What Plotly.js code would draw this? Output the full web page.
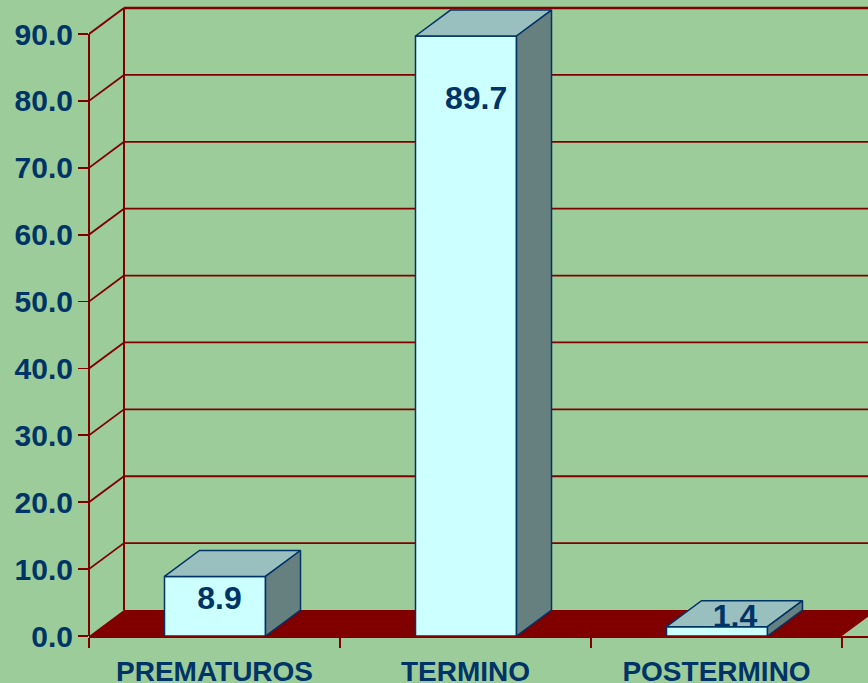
<!DOCTYPE html>
<html>
<head>
<meta charset="utf-8">
<script src="https://cdn.plot.ly/plotly-3.0.1.min.js"></script>
<style>html,body{margin:0;padding:0;background:#9BCC99;overflow:hidden}</style>
</head>
<body>
<div id="chart" style="width:868px;height:683px"></div>
<script>
const categories = ["PREMATUROS", "TERMINO", "POSTERMINO"];
const values = [8.9, 89.7, 1.4];
const yTicks = [0, 10, 20, 30, 40, 50, 60, 70, 80, 90];
const labelX = [0.52, 1.542, 2.574];
const labelY = [5.2, 80.0, 2.6];

const W = 868, H = 683, L = 89, B = 46.5;
const pxPerCat = 251, pxPerUnit = 6.694;
const dx = 35 / pxPerCat, dy = 26 / pxPerUnit;
const barW = 101 / pxPerCat;
const barShift = 0.5 / pxPerCat;
const red = "#800000", ink = "#003366", bg = "#9BCC99";
const centers = categories.map((_, i) => i + 0.5);
const barCenters = centers.map(c => c + barShift);

const traces = [];
traces.push({
  type: "bar", x: barCenters, y: values, width: barW, hoverinfo: "skip",
  marker: {color: "#CCFFFF", line: {color: ink, width: 1.5}}
});
function face(xs, ys, fill) {
  traces.push({
    type: "scatter", mode: "lines", x: xs, y: ys, fill: "toself", fillcolor: fill,
    line: {color: ink, width: 1.5}, hoverinfo: "skip"
  });
}
values.forEach((v, i) => {
  const a = barCenters[i] - barW / 2, b = barCenters[i] + barW / 2;
  face([a, a + dx, b + dx, b, a], [v, v + dy, v + dy, v, v], "#99BFBF");
  face([b, b + dx, b + dx, b, b], [0, dy, v + dy, v, 0], "#668080");
});
traces.push({
  type: "scatter", mode: "text", x: labelX, y: labelY,
  text: values.map(v => v.toFixed(1)), textposition: "middle center",
  textfont: {family: "Liberation Sans, Arial, sans-serif", size: 32, color: ink, weight: 700},
  hoverinfo: "skip"
});

const xEnd = (W - L) / pxPerCat;
const shapes = [];
shapes.push({type: "path", layer: "below", xref: "x", yref: "y", line: {width: 0}, fillcolor: red,
  path: `M0,0 L3,0 L${3 + dx},${dy} L${dx},${dy} Z`});
yTicks.slice(1).forEach(t => {
  shapes.push({type: "line", layer: "below", xref: "x", yref: "y", x0: 0, y0: t, x1: dx, y1: t + dy,
    line: {color: red, width: t === 90 ? 2 : 1.8}});
  shapes.push({type: "line", layer: "below", xref: "x", yref: "y", x0: dx, y0: t + dy, x1: xEnd, y1: t + dy,
    line: {color: red, width: t === 90 ? 2.5 : 1.8}});
});
shapes.push({type: "line", layer: "below", xref: "x", yref: "y", x0: dx, y0: dy, x1: dx, y1: 90 + dy,
  line: {color: red, width: 2}});
shapes.push({type: "line", layer: "below", xref: "paper", yref: "y", x0: 0, y0: 0, x1: 0, y1: 90,
  line: {color: red, width: 2}});

const layout = {
  width: W, height: H, showlegend: false,
  margin: {l: L, r: 0, t: 0, b: B, pad: 0},
  paper_bgcolor: bg, plot_bgcolor: bg,
  barmode: "overlay",
  shapes: shapes,
  xaxis: {
    range: [0, xEnd], tickmode: "array", tickvals: centers, ticktext: categories,
    showgrid: false, zeroline: false, showline: true, linecolor: red, linewidth: 2,
    ticks: "", ticklabelstandoff: 9,
    tickfont: {family: "Liberation Sans, Arial, sans-serif", size: 28, color: ink, weight: 700},
    minor: {tickmode: "array", tickvals: [0, 1, 2, 3], ticks: "outside", ticklen: 10, tickwidth: 1.8, tickcolor: red, showgrid: false}
  },
  yaxis: {
    range: [0, (H - B) / pxPerUnit], tickmode: "array", tickvals: yTicks,
    tickformat: ".1f", showgrid: false, zeroline: false, showline: false,
    ticks: "outside", ticklen: 10, tickwidth: 1.8, tickcolor: red, ticklabelstandoff: -1,
    tickfont: {family: "Liberation Sans, Arial, sans-serif", size: 30, color: ink, weight: 700}
  }
};
Plotly.newPlot("chart", traces, layout, {displayModeBar: false, staticPlot: true});
</script>
</body>
</html>
